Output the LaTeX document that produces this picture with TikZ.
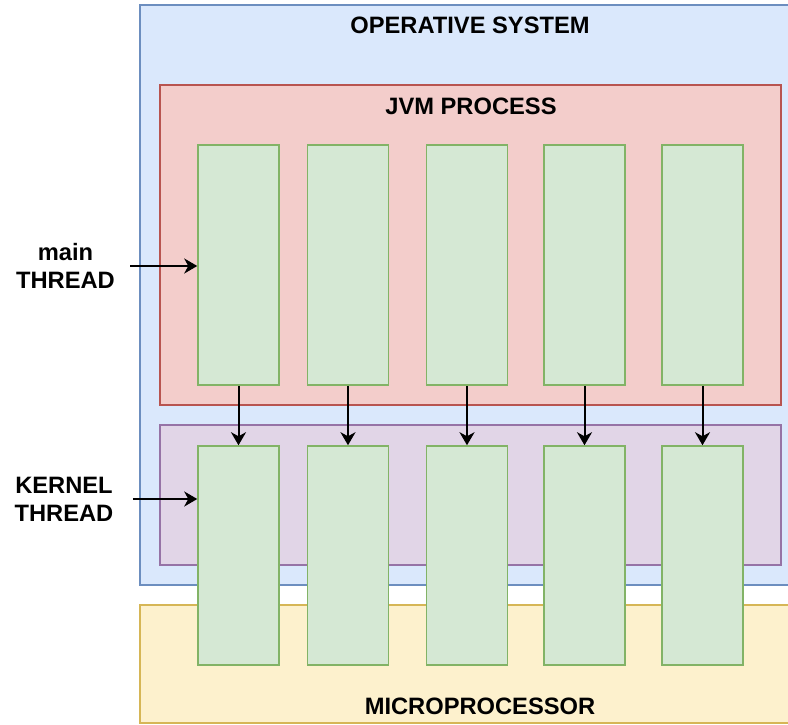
\documentclass[tikz,border=0pt]{standalone}
\usepackage{fontspec}
\setmainfont{Liberation Sans}
\usetikzlibrary{arrows.meta}
\definecolor{osfill}{HTML}{DAE8FC}
\definecolor{osline}{HTML}{6C8EBF}
\definecolor{jvmfill}{HTML}{F3CDCB}
\definecolor{jvmline}{HTML}{B85450}
\definecolor{kernfill}{HTML}{E1D5E7}
\definecolor{kernline}{HTML}{9673A6}
\definecolor{cpufill}{HTML}{FDF1CD}
\definecolor{cpuline}{HTML}{D6B656}
\definecolor{thrfill}{HTML}{D5E8D4}
\definecolor{thrline}{HTML}{82B366}
\tikzset{plate/.style 2 args={draw=#1, fill=#2, line width=1.5pt, inner sep=0pt}}
\tikzset{thread/.style={draw=thrline, fill=thrfill, line width=1.5pt, minimum width=81pt, inner sep=0pt}}
\tikzset{heading/.style={font=\bfseries\fontsize{23.7}{28}\selectfont, align=center}}
\tikzset{link/.style={-{Stealth[length=13pt, width=15pt, inset=4pt]}, line width=2pt}}

\begin{document}
\begin{tikzpicture}[x=1pt, y=-1pt]
\useasboundingbox (0,0) rectangle (788,725);
\clip (0,0) rectangle (788,725);
% layers
\node[plate={osline}{osfill}, minimum width=670pt, minimum height=580pt] (os) at (475,295) {};
\node[plate={cpuline}{cpufill}, minimum width=680pt, minimum height=118pt] (cpu) at (480,664) {};
\node[plate={jvmline}{jvmfill}, minimum width=621pt, minimum height=320pt] (jvm) at (470.5,245) {};
\node[plate={kernline}{kernfill}, minimum width=621pt, minimum height=140pt] (kern) at (470.5,495) {};
\node[heading, anchor=base] at (470,34) {OPERATIVE SYSTEM};
\node[heading, anchor=base] at (471,114) {JVM PROCESS};
\node[heading, anchor=base] at (480,714) {MICROPROCESSOR};
% java threads mapped onto kernel threads
\foreach \i/\x in {1/238.5, 2/348, 3/467, 4/584.5, 5/702.5} {
  \node[thread, minimum height=240pt] (jt\i) at (\x,265) {};
  \node[thread, minimum height=219pt] (kt\i) at (\x,555.5) {};
  \draw[link] (jt\i) -- (kt\i);
}
\node[heading] (mainlbl) at (65.5,266) {main\\THREAD};
\node[heading] (kernlbl) at (64,499) {KERNEL\\THREAD};
\draw[link, shorten <=12pt] (mainlbl.east) -- (mainlbl.east -| jt1.west);
\draw[link, shorten <=16pt] (kernlbl.east) -- (kernlbl.east -| kt1.west);
\end{tikzpicture}
\end{document}
